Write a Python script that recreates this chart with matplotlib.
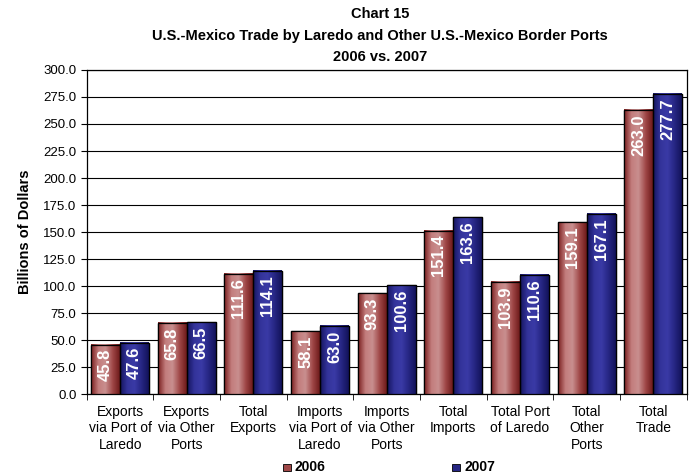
import numpy as np
import matplotlib
matplotlib.use('Agg')
import matplotlib.pyplot as plt
from matplotlib.colors import LinearSegmentedColormap

plt.rcParams['font.family'] = ['Liberation Sans', 'DejaVu Sans']

categories = ['Exports\nvia Port of\nLaredo', 'Exports\nvia Other\nPorts', 'Total\nExports',
              'Imports\nvia Port of\nLaredo', 'Imports\nvia Other\nPorts', 'Total\nImports',
              'Total Port\nof Laredo', 'Total\nOther\nPorts', 'Total\nTrade']
vals_2006 = [45.8, 65.8, 111.6, 58.1, 93.3, 151.4, 103.9, 159.1, 263.0]
vals_2007 = [47.6, 66.5, 114.1, 63.0, 100.6, 163.6, 110.6, 167.1, 277.7]
years = ['2006', '2007']

# horizontal shading for each bar: dark edges, lighter toward the middle
red_cmap = LinearSegmentedColormap.from_list('r', ['#7a1f1f', '#c27c7c', '#c98f8f', '#a04848', '#6e1a1a'])
blue_cmap = LinearSegmentedColormap.from_list('b', ['#15155e', '#33339a', '#3a3aa6', '#262683', '#12125a'])
grad = np.linspace(0, 1, 64).reshape(1, -1)

fig = plt.figure(figsize=(7.0, 4.76), dpi=100)
ax = fig.add_axes([0.124, 0.172, 0.857, 0.681])

x = np.arange(len(categories))
w = 0.435
for vals, off, cmap, col in [(vals_2006, -w, red_cmap, '#a04848'), (vals_2007, 0, blue_cmap, '#262683')]:
    bars = ax.bar(x + off, vals, w, align='edge', color=col, edgecolor='black', linewidth=0.9, zorder=3)
    for b, v in zip(bars, vals):
        x0 = b.get_x()
        ax.imshow(grad, extent=[x0, x0 + w, 0, v], aspect='auto', cmap=cmap, zorder=3.5)
        ax.add_patch(plt.Rectangle((x0, 0), w, v, fill=False, edgecolor='black', linewidth=0.9, zorder=4))
        ax.text(x0 + w / 2, v - 4, '%.1f' % v, rotation=90, ha='center', va='top',
                color='white', fontsize=12, fontweight='bold', zorder=5)

ax.set_xlim(-0.5, len(categories) - 0.5)
ax.set_ylim(0, 300)
ax.set_yticks(np.arange(0, 301, 25))
ax.set_yticklabels(['%.1f' % t for t in np.arange(0, 301, 25)], fontsize=9.5)
ax.yaxis.grid(True, color='black', linewidth=0.8, zorder=0)
ax.set_axisbelow(True)
ax.set_xticks(x)
ax.set_xticklabels(categories, fontsize=10, linespacing=1.2)
ax.tick_params(axis='x', length=0, pad=8)
ax.set_xticks(np.arange(-0.5, len(categories), 1), minor=True)
ax.tick_params(axis='x', which='minor', length=4, direction='out')
ax.tick_params(axis='y', length=4, direction='out')
for s in ax.spines.values():
    s.set_linewidth(0.9)
ax.set_ylabel('Billions of Dollars', fontsize=10.5, fontweight='bold', labelpad=8)

tx = 0.543
fig.text(tx, 0.985, 'Chart 15', ha='center', va='top', fontsize=10.5, fontweight='bold')
fig.text(tx, 0.94, 'U.S.-Mexico Trade by Laredo and Other U.S.-Mexico Border Ports',
         ha='center', va='top', fontsize=10.5, fontweight='bold')
fig.text(tx, 0.895, '2006 vs. 2007', ha='center', va='top', fontsize=10.5, fontweight='bold')

# legend along the bottom
for xpos, col, lab in [(0.404, '#a04848', years[0]), (0.646, '#262683', years[1])]:
    fig.patches.append(plt.Rectangle((xpos, 0.01), 0.011, 0.016, transform=fig.transFigure,
                                     facecolor=col, edgecolor='black', linewidth=0.6))
    fig.text(xpos + 0.017, 0.018, lab, ha='left', va='center', fontsize=10, fontweight='bold')

fig.savefig('out.png', dpi=100)
